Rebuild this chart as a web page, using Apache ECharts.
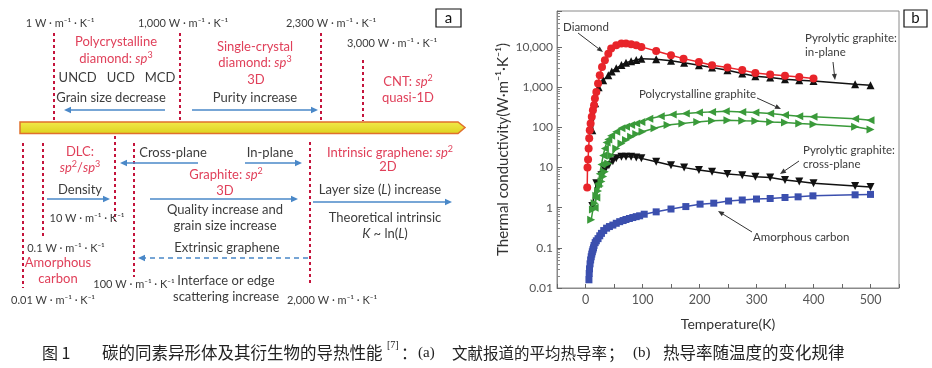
<!DOCTYPE html>
<html><head><meta charset="utf-8">
<script src="https://cdn.jsdelivr.net/npm/echarts@6/dist/echarts.min.js"></script>
<style>html,body{margin:0;padding:0;background:#fff}#c{width:932px;height:368px}</style>
</head><body><div id="c"></div>
<script>
// ---------- data (panel b) ----------
const xTickValues = [0, 100, 200, 300, 400, 500];
const yTickLabels = {'0.01':'0.01','0.1':'0.1','1':'1','10':'10','100':'100','1000':'1,000','10000':'10,000'};
const diamond = [[3,3.2],[3.5,10],[4.5,16],[5.5,30],[6.5,54],[7.5,85],[9,125],[11,185],[13,270],[15,360],[16.5,530],[19,770],[22,1250],[25,2000],[29,3200],[34,4750],[40,6900],[45,9300],[54,11200],[63,12400],[71,12400],[80,11800],[89,11200],[98,10200],[124,8100],[150,6300],[172,5200],[199,4300],[222,3550],[249,3130],[275,2690],[298,2290],[324,2090],[350,1940],[375,1820],[400,1660]];
const pyroInPlane = [[12,85],[17,400],[23,1000],[31,1500],[40,2000],[46,2500],[54,3000],[63,3600],[71,4100],[80,4500],[89,4800],[98,5200],[124,5000],[150,4600],[173,4080],[199,3550],[222,3130],[249,2680],[275,2220],[298,1900],[324,1760],[350,1600],[375,1500],[400,1450],[473,1200],[500,1130]];
const polyGraphiteA = [[16,1.0],[19,1.8],[22,3.9],[25,7],[28,12],[31,20],[34,30],[37,42],[40,50],[45,62],[54,78],[63,96],[71,105],[80,115],[89,125],[98,138],[112,165],[132,190],[153,210],[176,222],[199,235],[222,245],[246,255],[275,245],[298,235],[324,222],[350,205],[375,190],[400,185],[473,165],[500,152]];
const polyGraphiteB = [[10,0.5],[13,0.9],[16,1.3],[19,2.0],[22,2.6],[25,3.5],[28,4.5],[31,6],[34,7.9],[40,12.6],[45,20],[54,30],[63,40],[71,49],[80,59],[89,69],[100,78],[121,96],[144,115],[170,125],[196,138],[222,147],[249,152],[275,147],[298,145],[324,138],[350,134],[375,125],[400,120],[473,105],[500,89]];
const pyroCrossPlane = [[12,1.1],[19,4.1],[28,6.5],[34,8.7],[41,11.5],[48,14.5],[54,17],[63,18.6],[71,18.6],[80,18.6],[89,18],[98,17],[124,14],[150,11.5],[173,10],[199,8.7],[222,7.9],[249,6.9],[275,6.5],[298,5.9],[324,5.7],[350,4.9],[375,4.5],[400,4.1],[473,3.5],[500,3.3]];
const amorphousCarbon = [[6,0.016],[6.5,0.023],[7,0.03],[8,0.04],[9,0.05],[10,0.06],[11,0.07],[12,0.08],[13,0.09],[14,0.1],[15,0.115],[17,0.135],[19,0.15],[22,0.17],[25,0.2],[28,0.23],[32,0.27],[37,0.31],[42,0.34],[48,0.37],[54,0.41],[60,0.45],[66,0.48],[71,0.51],[77,0.54],[83,0.57],[89,0.6],[95,0.63],[103,0.69],[124,0.79],[150,0.93],[176,1.07],[201,1.23],[225,1.3],[251,1.47],[275,1.56],[300,1.65],[324,1.7],[350,1.8],[373,1.87],[399,1.98],[473,2.1],[500,2.15]];

// ---------- styles ----------
const RED = '#e0405a', DARK = '#3c3c3c', BLUE = '#4a88c8', DOT = '#c4143c';
const FF = 'Lato';

function T(x, y, text, color, size, align, rich) {
  const s = {text: text, x: 0, y: 0, fill: color || DARK, fontSize: size || 13, fontFamily: FF,
    align: align || 'center', textAlign: align || 'center', verticalAlign: 'middle', textVerticalAlign: 'middle'};
  if (rich) s.rich = rich;
  return {type: 'text', x: x, y: y, silent: true, style: s};
}
function richRed(size) {
  return {r: {fill: RED, fontSize: size, fontFamily: FF}, i: {fill: RED, fontSize: size, fontFamily: FF, fontStyle: 'italic'},
          s: {fill: RED, fontSize: size - 4, fontFamily: FF, padding: [0, 0, 7, 0]}, si: {fill: RED, fontSize: size - 4, fontFamily: FF, fontStyle: 'italic', padding: [0, 0, 7, 0]},
          d: {fill: DARK, fontSize: size, fontFamily: FF}, di: {fill: DARK, fontSize: size, fontFamily: FF, fontStyle: 'italic'}};
}
function VL(x, y1, y2) {
  return {type: 'line', silent: true, shape: {x1: x, y1: y1, x2: x, y2: y2}, style: {stroke: DOT, lineWidth: 2, lineDash: [3, 3]}};
}
function AR(x1, y1, x2, y2, color, dash, w, L, W) {
  const a = Math.atan2(y2 - y1, x2 - x1); L = L || 7; W = W || 3.2;
  const bx = x2 - L * Math.cos(a), by = y2 - L * Math.sin(a);
  const px = -Math.sin(a) * W, py = Math.cos(a) * W;
  return [
    {type: 'line', silent: true, shape: {x1: x1, y1: y1, x2: bx, y2: by}, style: {stroke: color, lineWidth: w || 1.5, lineDash: dash ? [5, 4] : null}},
    {type: 'polygon', silent: true, shape: {points: [[x2, y2], [bx + px, by + py], [bx - px, by - py]]}, style: {fill: color}}
  ];
}
const U = ' W · m⁻¹ · K⁻¹';
const g = [];
// yellow arrow bar
g.push({type: 'polygon', silent: true, shape: {points: [[20, 122], [458, 122], [465, 127.5], [458, 133.5], [20, 133.5]]},
  style: {fill: {type: 'linear', x: 0, y: 0, x2: 0, y2: 1, colorStops: [{offset: 0, color: '#f3ea4a'}, {offset: 1, color: '#dcd21e'}]}, stroke: '#e0702c', lineWidth: 1.5}});
// box a
g.push({type: 'rect', silent: true, shape: {x: 436, y: 9, width: 25, height: 18}, style: {fill: '#fff', stroke: '#111', lineWidth: 1.2}});
g.push(T(448.5, 18, 'a', '#111', 15));
// dotted lines (top)
g.push(VL(54, 33, 121), VL(180, 33, 121), VL(321, 33, 121), VL(363, 60, 121));
// dotted lines (bottom)
g.push(VL(23, 143, 288), VL(43, 143, 237), VL(115, 136, 221), VL(134, 143, 277), VL(310, 142, 285));
// top labels
g.push(T(60, 23, '1' + U, DARK, 11), T(183, 23, '1,000' + U, DARK, 11), T(331, 23, '2,300' + U, DARK, 11), T(392, 43, '3,000' + U, DARK, 11));
g.push(T(116, 42, 'Polycrystalline', RED, 13));
g.push(T(116, 59, '{r|diamond: }{i|sp}{s|3}', RED, 13, 'center', richRed(13)));
g.push(T(117, 78, 'UNCD   UCD   MCD', DARK, 13));
g.push(T(111, 98, 'Grain size decrease', DARK, 13));
g.push.apply(g, AR(165, 110, 64, 110, BLUE));
g.push(T(255, 47, 'Single-crystal', RED, 13));
g.push(T(255, 63, '{r|diamond: }{i|sp}{s|3}', RED, 13, 'center', richRed(13)));
g.push(T(256, 80, '3D', RED, 13));
g.push(T(255, 98, 'Purity increase', DARK, 13));
g.push.apply(g, AR(192, 110, 318, 110, BLUE));
g.push(T(408, 82, '{r|CNT: }{i|sp}{s|2}', RED, 13, 'center', richRed(13)));
g.push(T(408, 98, 'quasi-1D', RED, 13));
// bottom labels
g.push(T(80, 152, 'DLC:', RED, 13));
g.push(T(80, 168, '{i|sp}{s|2}{r|/}{i|sp}{s|3}', RED, 13, 'center', richRed(13)));
g.push(T(80, 190, 'Density', DARK, 13));
g.push.apply(g, AR(47, 199, 110, 199, BLUE));
g.push(T(87, 218, '10' + U, DARK, 11));
g.push(T(66, 248, '0.1' + U, DARK, 11));
g.push(T(58, 263, 'Amorphous', RED, 13));
g.push(T(58, 279, 'carbon', RED, 13));
g.push(T(53, 300, '0.01' + U, DARK, 11));
g.push(T(173, 153, 'Cross-plane', DARK, 13));
g.push.apply(g, AR(198, 163, 120, 163, BLUE));
g.push(T(270, 153, 'In-plane', DARK, 13));
g.push.apply(g, AR(245, 163, 302, 163, BLUE));
g.push(T(226, 175, '{r|Graphite: }{i|sp}{s|2}', RED, 13, 'center', richRed(13)));
g.push(T(225, 191, '3D', RED, 13));
g.push.apply(g, AR(150, 199, 298, 199, BLUE));
g.push(T(225, 210, 'Quality increase and', DARK, 13));
g.push(T(225, 226, 'grain size increase', DARK, 13));
g.push(T(227, 248, 'Extrinsic graphene', DARK, 13));
g.push.apply(g, AR(308, 258, 138, 258, BLUE, true));
g.push(T(134, 284, '100' + U, DARK, 11));
g.push(T(226, 281, 'Interface or edge', DARK, 13));
g.push(T(226, 297, 'scattering increase', DARK, 13));
g.push(T(332, 300, '2,000' + U, DARK, 11));
g.push(T(390, 153, '{r|Intrinsic graphene: }{i|sp}{s|2}', RED, 13, 'center', richRed(13)));
g.push(T(388, 167, '2D', RED, 13));
g.push(T(380, 190, '{d|Layer size (}{di|L}{d|) increase}', DARK, 13, 'center', richRed(13)));
g.push.apply(g, AR(313, 202, 452, 202, BLUE));
g.push(T(385, 218, 'Theoretical intrinsic', DARK, 13));
g.push(T(385, 234, '{di|K}{d| ~ ln(}{di|L}{d|)}', DARK, 13, 'center', richRed(13)));
// panel b annotations
const AF = 11.5;
g.push({type: 'rect', silent: true, shape: {x: 904, y: 10, width: 23, height: 17}, style: {fill: '#fff', stroke: '#111', lineWidth: 1.2}});
g.push(T(915.5, 18.5, 'b', '#111', 15));
g.push(T(563, 27, 'Diamond', DARK, AF, 'left'));
g.push.apply(g, AR(578, 33, 603, 52, '#333', false, 1, 6, 2.5));
g.push(T(805, 38, 'Pyrolytic graphite:', DARK, AF, 'left'));
g.push(T(805, 52, 'in-plane', DARK, AF, 'left'));
g.push.apply(g, AR(833, 62, 835, 80, '#333', false, 1, 6, 2.5));
g.push(T(639, 94, 'Polycrystalline graphite', DARK, AF, 'left'));
g.push.apply(g, AR(757, 98, 781, 109, '#333', false, 1, 6, 2.5));
g.push(T(803, 150, 'Pyrolytic graphite:', DARK, AF, 'left'));
g.push(T(803, 164, 'cross-plane', DARK, AF, 'left'));
g.push.apply(g, AR(799, 161, 780, 174, '#333', false, 1, 6, 2.5));
g.push(T(753, 237, 'Amorphous carbon', DARK, AF, 'left'));
g.push.apply(g, AR(752, 232, 718, 211, '#333', false, 1, 6, 2.5));
// caption
const CJK = '"Noto Sans CJK SC"';
function C(x, text, size, fam, y) {
  return {type: 'text', x: x, y: y || 353, silent: true, style: {text: text, fill: '#222', fontSize: size || 16, fontFamily: fam || CJK, align: 'left', textAlign: 'left', verticalAlign: 'middle', textVerticalAlign: 'middle'}};
}
g.push(C(42, '图 1', 16));
g.push(C(102, '碳的同素异形体及其衍生物的导热性能', 16.5));
g.push(C(387, '[7]', 10, '"Liberation Serif"', 345));
g.push(C(401, '：', 16));
g.push(C(418, '(a)', 15, '"Liberation Serif"'));
g.push(C(452, '文献报道的平均热导率', 15.5));
g.push(C(608, '；', 16));
g.push(C(633, '(b)', 15, '"Liberation Serif"'));
g.push(C(663, '热导率随温度的变化规律', 16.5));

function mkSeries(name, data, color, symbol, rot, size) {
  return {name: name, type: 'line', data: data, symbol: symbol, symbolSize: size || 8, symbolRotate: rot || 0,
    lineStyle: {color: color, width: 1.5}, itemStyle: {color: color}, animation: false, z: 3};
}
const chart = echarts.init(document.getElementById('c'), null, {renderer: 'canvas'});
chart.setOption({
  animation: false,
  grid: {left: 557, top: 11, right: 33, bottom: 80, show: true, borderColor: '#8a8a8a', borderWidth: 1, backgroundColor: 'transparent'},
  xAxis: {type: 'value', min: -50, max: 550, interval: 50,
    name: 'Temperature(K)', nameLocation: 'middle', nameGap: 29, nameTextStyle: {fontFamily: FF, fontSize: 14, color: '#333'},
    axisLine: {show: true, onZero: false, lineStyle: {color: '#8a8a8a'}}, axisTick: {show: true, inside: true, length: 4, lineStyle: {color: '#666'}},
    axisLabel: {margin: 5, fontFamily: FF, fontSize: 12.5, color: '#555', formatter: v => xTickValues.indexOf(v) >= 0 ? String(v) : ''},
    splitLine: {show: false}},
  yAxis: {type: 'log', logBase: 10, min: 0.01, max: 80000,
    name: 'Thermal conductivity(W·m⁻¹·K⁻¹)', nameLocation: 'middle', nameGap: 46, nameRotate: 90, nameTextStyle: {fontFamily: FF, fontSize: 15, color: '#333'},
    axisLine: {show: true, onZero: false, lineStyle: {color: '#8a8a8a'}}, axisTick: {show: true, inside: true, length: 5, lineStyle: {color: '#666'}},
    minorTick: {show: true, splitNumber: 9, length: 3, lineStyle: {color: '#888'}},
    axisLabel: {margin: 4, fontFamily: FF, fontSize: 12, color: '#555', showMaxLabel: false, formatter: v => { const k = String(+v.toPrecision(3)); return yTickLabels[k] || ''; }},
    splitLine: {show: false}},
  series: [
    mkSeries('Amorphous carbon', amorphousCarbon, '#3b4fae', 'rect', 0, 7),
    mkSeries('Pyrolytic graphite: cross-plane', pyroCrossPlane, '#111', 'triangle', 180, 8),
    mkSeries('Polycrystalline graphite B', polyGraphiteB, '#3a9a3a', 'triangle', -90, 8),
    mkSeries('Polycrystalline graphite A', polyGraphiteA, '#3a9a3a', 'triangle', 90, 8),
    mkSeries('Pyrolytic graphite: in-plane', pyroInPlane, '#111', 'triangle', 0, 8),
    mkSeries('Diamond', diamond, '#e8242a', 'circle', 0, 8)
  ],
  graphic: {elements: g}
});
</script>
</body></html>
